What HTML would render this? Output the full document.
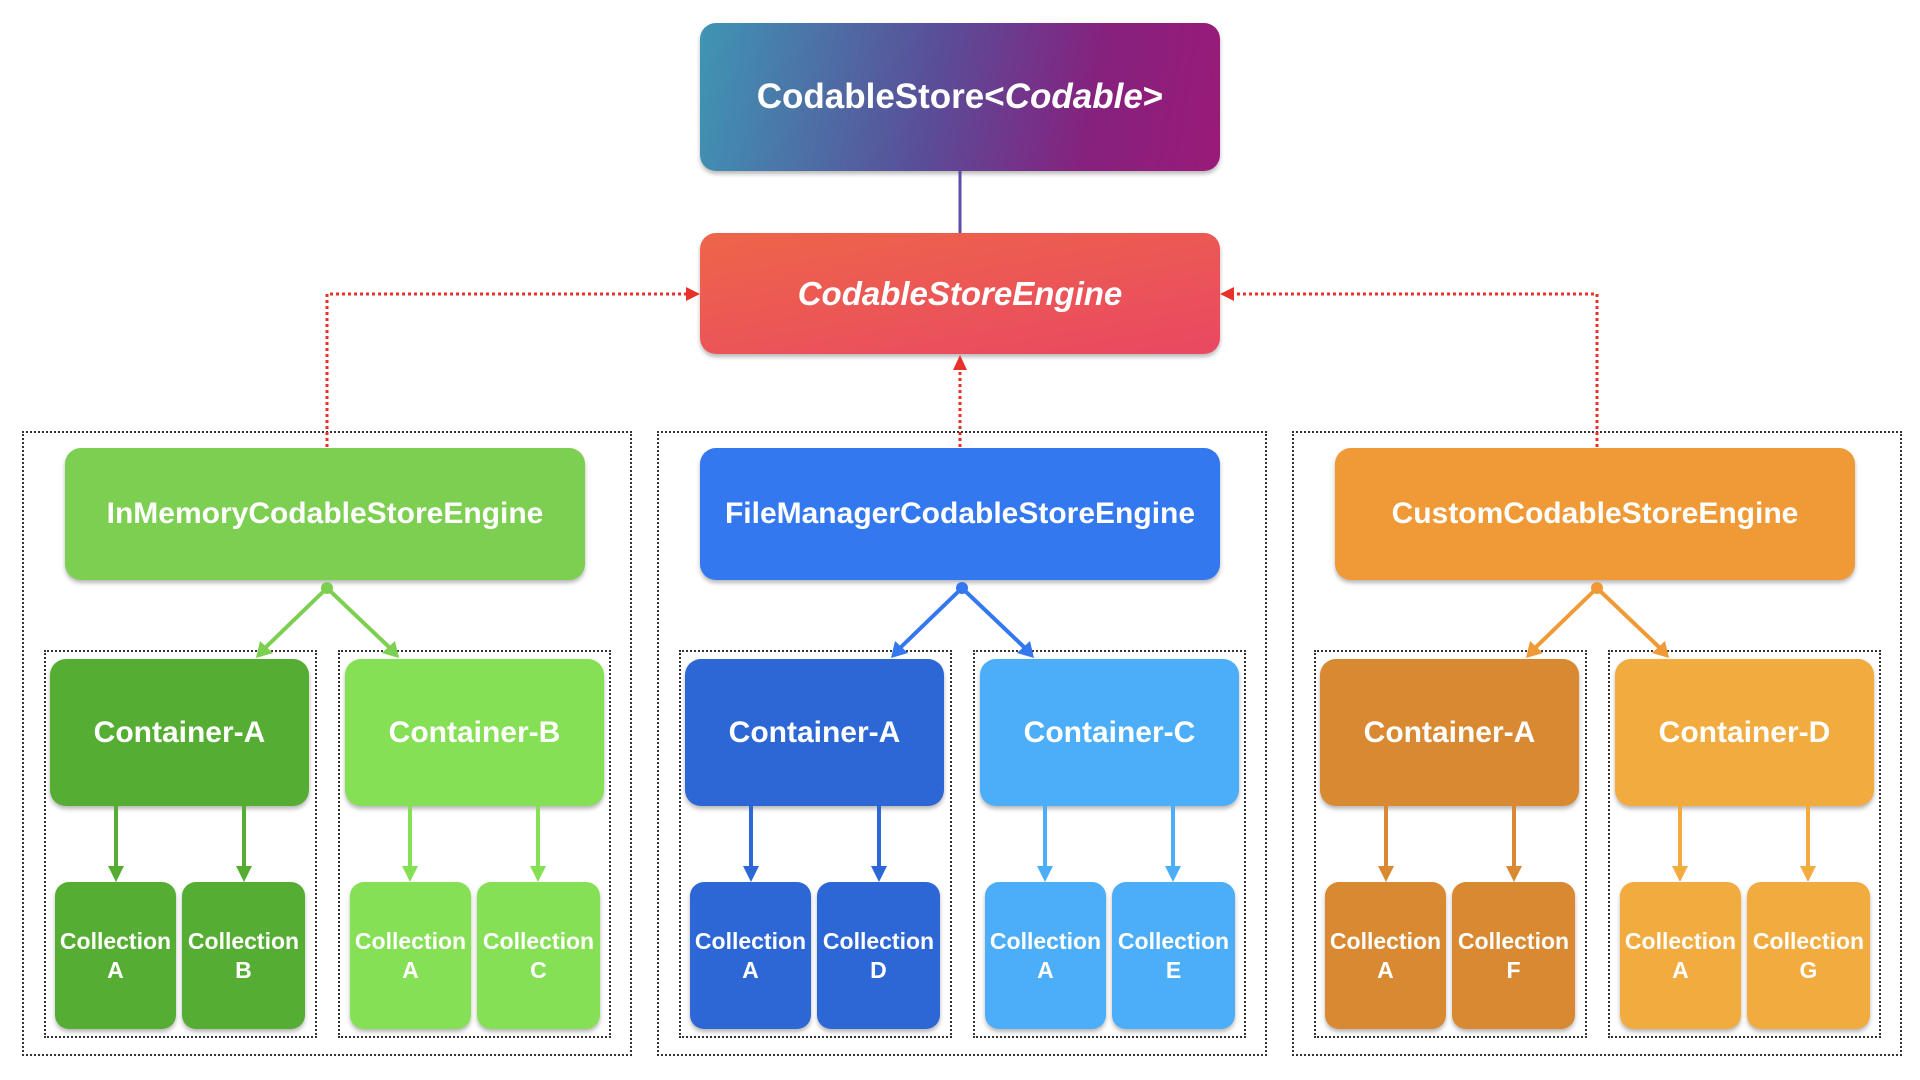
<!DOCTYPE html>
<html><head><meta charset="utf-8"><style>
body{margin:0;width:1920px;height:1080px;background:#fff;position:relative;overflow:hidden;font-family:"Liberation Sans",sans-serif;}
.b{position:absolute;display:flex;align-items:center;justify-content:center;text-align:center;color:#fff;font-weight:bold;border-radius:16px;box-shadow:0 3px 4px rgba(0,0,0,0.28);}
.o{position:absolute;border:2px dotted #333;box-sizing:border-box;}
.eng{font-size:30px;}
.con{font-size:30px;}
.col{font-size:23px;line-height:29px;border-radius:14px;}
svg{position:absolute;left:0;top:0;}
</style></head><body>

<div class="b" style="left:700px;top:23px;width:520px;height:148px;background:linear-gradient(100deg,#3f95b4 0%,#5a4d98 45%,#86217e 75%,#9a1a78 100%);font-size:35px;">CodableStore&lt;<i>Codable</i>&gt;</div>
<div class="b" style="left:700px;top:233px;width:520px;height:121px;background:linear-gradient(170deg,#ee6549 0%,#e94862 100%);font-size:33px;font-style:italic;">CodableStoreEngine</div>

<!-- Group 1 -->
<div class="o" style="left:22px;top:431px;width:610px;height:625px"></div>
<div class="o" style="left:44px;top:650px;width:273px;height:388px"></div>
<div class="o" style="left:338px;top:650px;width:273px;height:388px"></div>
<div class="b eng" style="left:65px;top:448px;width:520px;height:132px;background:#7ccf50">InMemoryCodableStoreEngine</div>
<div class="b con" style="left:50px;top:659px;width:259px;height:147px;background:#55ae33">Container-A</div>
<div class="b con" style="left:345px;top:659px;width:259px;height:147px;background:#86e055">Container-B</div>
<div class="b col" style="left:55px;top:882px;width:121px;height:147px;background:#55ae33">Collection<br>A</div>
<div class="b col" style="left:182px;top:882px;width:123px;height:147px;background:#55ae33">Collection<br>B</div>
<div class="b col" style="left:350px;top:882px;width:121px;height:147px;background:#86e055">Collection<br>A</div>
<div class="b col" style="left:477px;top:882px;width:123px;height:147px;background:#86e055">Collection<br>C</div>

<!-- Group 2 -->
<div class="o" style="left:657px;top:431px;width:610px;height:625px"></div>
<div class="o" style="left:679px;top:650px;width:273px;height:388px"></div>
<div class="o" style="left:973px;top:650px;width:273px;height:388px"></div>
<div class="b eng" style="left:700px;top:448px;width:520px;height:132px;background:#3478f0">FileManagerCodableStoreEngine</div>
<div class="b con" style="left:685px;top:659px;width:259px;height:147px;background:#2d67d6">Container-A</div>
<div class="b con" style="left:980px;top:659px;width:259px;height:147px;background:#4caef8">Container-C</div>
<div class="b col" style="left:690px;top:882px;width:121px;height:147px;background:#2d67d6">Collection<br>A</div>
<div class="b col" style="left:817px;top:882px;width:123px;height:147px;background:#2d67d6">Collection<br>D</div>
<div class="b col" style="left:985px;top:882px;width:121px;height:147px;background:#4caef8">Collection<br>A</div>
<div class="b col" style="left:1112px;top:882px;width:123px;height:147px;background:#4caef8">Collection<br>E</div>

<!-- Group 3 -->
<div class="o" style="left:1292px;top:431px;width:610px;height:625px"></div>
<div class="o" style="left:1314px;top:650px;width:273px;height:388px"></div>
<div class="o" style="left:1608px;top:650px;width:273px;height:388px"></div>
<div class="b eng" style="left:1335px;top:448px;width:520px;height:132px;background:#ef9a37">CustomCodableStoreEngine</div>
<div class="b con" style="left:1320px;top:659px;width:259px;height:147px;background:#d98931">Container-A</div>
<div class="b con" style="left:1615px;top:659px;width:259px;height:147px;background:#f2ab3e">Container-D</div>
<div class="b col" style="left:1325px;top:882px;width:121px;height:147px;background:#d98931">Collection<br>A</div>
<div class="b col" style="left:1452px;top:882px;width:123px;height:147px;background:#d98931">Collection<br>F</div>
<div class="b col" style="left:1620px;top:882px;width:121px;height:147px;background:#f2ab3e">Collection<br>A</div>
<div class="b col" style="left:1747px;top:882px;width:123px;height:147px;background:#f2ab3e">Collection<br>G</div>

<svg width="1920" height="1080" viewBox="0 0 1920 1080">
<line x1="960" y1="171" x2="960" y2="233" stroke="#5a4fa8" stroke-width="3"/>
<g stroke="#e8312a" stroke-width="3" stroke-dasharray="3,3" fill="none">
<polyline points="327,447 327,294 688,294"/>
<polyline points="1597,447 1597,294 1232,294"/>
<line x1="960" y1="447" x2="960" y2="368"/>
</g>
<g fill="#e8312a">
<polygon points="700,294 686,287 686,301"/>
<polygon points="1220,294 1234,287 1234,301"/>
<polygon points="960,355 953,370 967,370"/>
</g>
<g id="g1" stroke-width="4">
</g>
<!-- group arrows -->
<g>
<circle cx="327" cy="588" r="6" fill="#7ccf50"/>
<line x1="327" y1="588" x2="265" y2="648" stroke="#7ccf50" stroke-width="4"/>
<line x1="327" y1="588" x2="390" y2="648" stroke="#7ccf50" stroke-width="4"/>
<polygon points="256,658 260,641 273,653" fill="#7ccf50"/>
<polygon points="399,658 382,653 395,641" fill="#7ccf50"/>
<circle cx="962" cy="588" r="6" fill="#3478f0"/>
<line x1="962" y1="588" x2="900" y2="648" stroke="#3478f0" stroke-width="4"/>
<line x1="962" y1="588" x2="1025" y2="648" stroke="#3478f0" stroke-width="4"/>
<polygon points="891,658 895,641 908,653" fill="#3478f0"/>
<polygon points="1034,658 1017,653 1030,641" fill="#3478f0"/>
<circle cx="1597" cy="588" r="6" fill="#ef9a37"/>
<line x1="1597" y1="588" x2="1535" y2="648" stroke="#ef9a37" stroke-width="4"/>
<line x1="1597" y1="588" x2="1660" y2="648" stroke="#ef9a37" stroke-width="4"/>
<polygon points="1526,658 1530,641 1543,653" fill="#ef9a37"/>
<polygon points="1669,658 1652,653 1665,641" fill="#ef9a37"/>
</g>
<g stroke-width="4">
<line x1="116" y1="806" x2="116" y2="870" stroke="#55ae33"/><polygon points="116,882 108,866 124,866" fill="#55ae33"/>
<line x1="244" y1="806" x2="244" y2="870" stroke="#55ae33"/><polygon points="244,882 236,866 252,866" fill="#55ae33"/>
<line x1="410" y1="806" x2="410" y2="870" stroke="#86e055"/><polygon points="410,882 402,866 418,866" fill="#86e055"/>
<line x1="538" y1="806" x2="538" y2="870" stroke="#86e055"/><polygon points="538,882 530,866 546,866" fill="#86e055"/>
<line x1="751" y1="806" x2="751" y2="870" stroke="#2d67d6"/><polygon points="751,882 743,866 759,866" fill="#2d67d6"/>
<line x1="879" y1="806" x2="879" y2="870" stroke="#2d67d6"/><polygon points="879,882 871,866 887,866" fill="#2d67d6"/>
<line x1="1045" y1="806" x2="1045" y2="870" stroke="#4caef8"/><polygon points="1045,882 1037,866 1053,866" fill="#4caef8"/>
<line x1="1173" y1="806" x2="1173" y2="870" stroke="#4caef8"/><polygon points="1173,882 1165,866 1181,866" fill="#4caef8"/>
<line x1="1386" y1="806" x2="1386" y2="870" stroke="#d98931"/><polygon points="1386,882 1378,866 1394,866" fill="#d98931"/>
<line x1="1514" y1="806" x2="1514" y2="870" stroke="#d98931"/><polygon points="1514,882 1506,866 1522,866" fill="#d98931"/>
<line x1="1680" y1="806" x2="1680" y2="870" stroke="#f2ab3e"/><polygon points="1680,882 1672,866 1688,866" fill="#f2ab3e"/>
<line x1="1808" y1="806" x2="1808" y2="870" stroke="#f2ab3e"/><polygon points="1808,882 1800,866 1816,866" fill="#f2ab3e"/>
</g>
</svg>
</body></html>
